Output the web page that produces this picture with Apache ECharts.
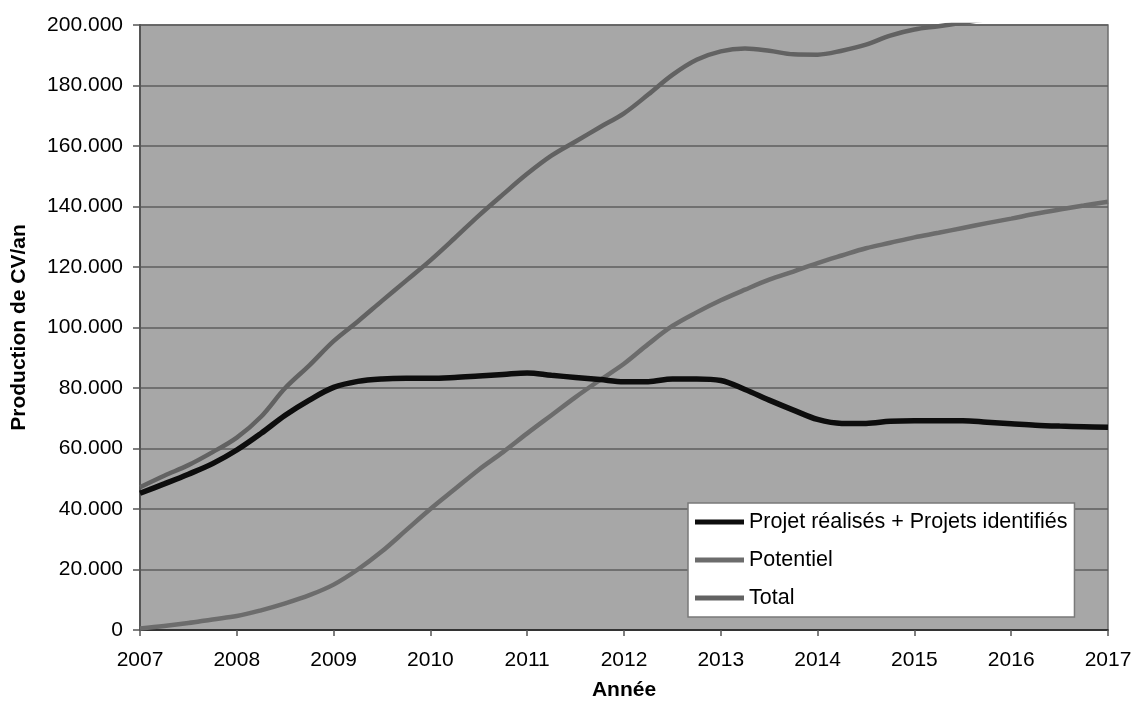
<!DOCTYPE html>
<html>
<head>
<meta charset="utf-8">
<script src="https://cdn.jsdelivr.net/npm/echarts@6/dist/echarts.min.js"></script>
<style>
  html, body { margin: 0; padding: 0; background: #ffffff; }
  #chart { width: 1133px; height: 701px; }
</style>
</head>
<body>
<div id="chart"></div>
<script>
// Quarterly time steps (years)
const years = [
  2007, 2007.25, 2007.5, 2007.75, 2008, 2008.25, 2008.5, 2008.75,
  2009, 2009.25, 2009.5, 2009.75, 2010, 2010.25, 2010.5, 2010.75,
  2011, 2011.25, 2011.5, 2011.75, 2012, 2012.25, 2012.5, 2012.75,
  2013, 2013.25, 2013.5, 2013.75, 2014, 2014.25, 2014.5, 2014.75,
  2015, 2015.25, 2015.5, 2015.75, 2016, 2016.25, 2016.5, 2016.75, 2017
];

// Production, in thousands of CV per year
const projets = [
  45.2, 48.3, 51.5, 55.0, 59.5, 65.0, 71.0, 76.0,
  80.2, 82.2, 83.0, 83.2, 83.2, 83.5, 84.0, 84.5,
  85.0, 84.2, 83.5, 82.8, 82.1, 82.1, 83.0, 83.0,
  82.5, 79.5, 76.0, 72.7, 69.6, 68.3, 68.3, 69.0,
  69.2, 69.2, 69.2, 68.7, 68.2, 67.7, 67.4, 67.2, 67.0
];
const potentiel = [
  0.5, 1.3, 2.3, 3.5, 4.6, 6.5, 8.8, 11.5,
  15.0, 20.0, 26.0, 33.0, 40.0, 46.5, 53.0, 58.8,
  65.0, 71.0, 77.0, 82.6, 88.0, 94.5, 100.5, 105.0,
  109.0, 112.5, 115.8, 118.5, 121.3, 123.8, 126.2, 128.0,
  129.8, 131.3, 132.9, 134.5, 136.0, 137.6, 139.0, 140.3, 141.6
];
const total = [
  47.2, 51.0, 54.5, 58.8, 63.6, 70.5, 80.0, 87.5,
  95.5, 102.0, 108.8, 115.5, 122.2, 129.5, 137.0, 144.0,
  150.8, 156.8, 161.5, 166.2, 170.8, 177.0, 183.5, 188.5,
  191.3, 192.2, 191.5, 190.3, 190.2, 191.5, 193.5, 196.5,
  198.5, 199.6, 200.8, 202.0, 204.0, 205.0, 206.5, 207.5, 208.6
];

const seriesNames = ['Projet réalisés + Projets identifiés', 'Potentiel', 'Total'];
const yAxisTitle = 'Production de CV/an';
const xAxisTitle = 'Année';

const pairs = vals => years.map((y, i) => [y, vals[i]]);
const font = 'Liberation Sans, Arial, sans-serif';

const chart = echarts.init(document.getElementById('chart'), null, { renderer: 'canvas' });

chart.setOption({
  animation: false,
  backgroundColor: '#ffffff',
  grid: {
    left: 140, right: 25, top: 25, bottom: 71,
    outerBoundsMode: 'none',
    containLabel: false,
    show: true,
    backgroundColor: '#a7a7a7',
    borderColor: '#6e6e6e',
    borderWidth: 1.5
  },
  legend: {
    orient: 'vertical',
    left: 688,
    top: 503,
    data: seriesNames,
    icon: 'rect',
    itemWidth: 49,
    itemHeight: 5,
    itemGap: 16,
    padding: [8, 7, 8, 7],
    backgroundColor: '#ffffff',
    borderColor: '#7a7a7a',
    borderWidth: 1.5,
    borderRadius: 0,
    textStyle: { fontFamily: font, fontSize: 21.5, color: '#000', lineHeight: 21 }
  },
  xAxis: {
    type: 'value',
    min: 2007, max: 2017, interval: 1,
    name: xAxisTitle,
    nameLocation: 'middle',
    nameGap: 50,
    nameTextStyle: { fontFamily: font, fontSize: 21, fontWeight: 'bold', color: '#000' },
    axisLine: { show: true, onZero: false, lineStyle: { color: '#222', width: 1.5 } },
    axisTick: { show: true, inside: false, length: 6, lineStyle: { color: '#555', width: 1.5 } },
    axisLabel: {
      margin: 20,
      fontFamily: font, fontSize: 21, color: '#000',
      formatter: v => String(v)
    },
    splitLine: { show: false }
  },
  yAxis: {
    type: 'value',
    min: 0, max: 200, interval: 20,
    name: yAxisTitle,
    nameLocation: 'middle',
    nameGap: 110,
    nameRotate: 90,
    nameTextStyle: { fontFamily: font, fontSize: 21, fontWeight: 'bold', color: '#000' },
    axisLine: { show: true, lineStyle: { color: '#555', width: 2 } },
    axisTick: { show: true, inside: false, length: 7, lineStyle: { color: '#555', width: 1.5 } },
    axisLabel: {
      margin: 17,
      fontFamily: font, fontSize: 21, color: '#000',
      formatter: v => v === 0 ? '0' : v + '.000'
    },
    splitLine: { show: true, lineStyle: { color: '#5e5e5e', width: 1.5 } }
  },
  series: [
    {
      name: seriesNames[0], type: 'line', data: pairs(projets),
      smooth: 0.35, showSymbol: false, clip: true, z: 4,
      itemStyle: { color: '#0d0d0d' },
      lineStyle: { color: '#0d0d0d', width: 5.5 }
    },
    {
      name: seriesNames[1], type: 'line', data: pairs(potentiel),
      smooth: 0.35, showSymbol: false, clip: true, z: 3,
      itemStyle: { color: '#6c6c6c' },
      lineStyle: { color: '#6c6c6c', width: 4.5 }
    },
    {
      name: seriesNames[2], type: 'line', data: pairs(total),
      smooth: 0.35, showSymbol: false, clip: true, z: 2,
      itemStyle: { color: '#626262' },
      lineStyle: { color: '#626262', width: 4.5 }
    }
  ]
});
</script>
</body>
</html>
